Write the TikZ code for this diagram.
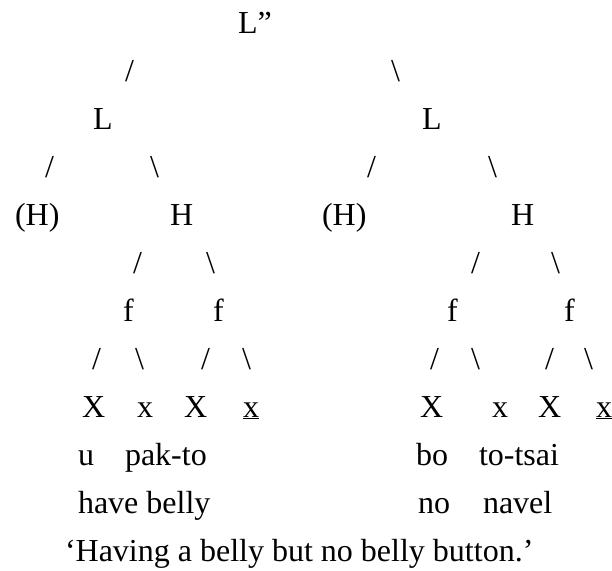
\documentclass[tikz,border=0pt]{standalone}
\usepackage{fontspec}
\setmainfont{Liberation Serif}
\usepackage{tikz}
\tikzstyle{cat} = [anchor=base west, inner sep=0pt, outer sep=0pt]
\tikzstyle{branch} = [cat]
\tikzstyle{gloss} = [cat]

\begin{document}
\begin{tikzpicture}[x=1pt, y=-1pt, font=\fontsize{32}{38}\selectfont]
	\useasboundingbox (0,0) rectangle (612,570);

	\node[cat] (top) at (238, 33) {L”};
	\node[branch] (b1) at (125, 81) {/};
	\node[branch] (b2) at (391, 81) {\textbackslash};

	\node[cat] (l1) at (93, 129) {L};
	\node[cat] (l2) at (422, 129) {L};
	\node[branch] (b3) at (45, 177) {/};
	\node[branch] (b4) at (150, 177) {\textbackslash};
	\node[branch] (b5) at (367, 177) {/};
	\node[branch] (b6) at (488, 177) {\textbackslash};

	\node[cat] (oh1) at (15, 225) {(H)};
	\node[cat] (h1) at (170, 225) {H};
	\node[cat] (oh2) at (322, 225) {(H)};
	\node[cat] (h2) at (511, 225) {H};
	\node[branch] (b7) at (133, 273) {/};
	\node[branch] (b8) at (206, 273) {\textbackslash};
	\node[branch] (b9) at (471, 273) {/};
	\node[branch] (b10) at (551, 273) {\textbackslash};

	\node[cat] (f1) at (123, 321) {f};
	\node[cat] (f2) at (213, 321) {f};
	\node[cat] (f3) at (447, 321) {f};
	\node[cat] (f4) at (564, 321) {f};
	\node[branch] (b11) at (92, 369) {/};
	\node[branch] (b12) at (135, 369) {\textbackslash};
	\node[branch] (b13) at (201, 369) {/};
	\node[branch] (b14) at (242, 369) {\textbackslash};
	\node[branch] (b15) at (430, 369) {/};
	\node[branch] (b16) at (471, 369) {\textbackslash};
	\node[branch] (b17) at (545, 369) {/};
	\node[branch] (b18) at (584, 369) {\textbackslash};

	% skeleton slots
	\node[cat] (x1) at (82, 417) {X};
	\node[cat] (x2) at (137, 417) {x};
	\node[cat] (x3) at (184, 417) {X};
	\node[cat] (x4) at (243, 417) {\underline{x}};
	\node[cat] (x5) at (420, 417) {X};
	\node[cat] (x6) at (492, 417) {x};
	\node[cat] (x7) at (538, 417) {X};
	\node[cat] (x8) at (596, 417) {\underline{x}};

	% words and glosses
	\node[gloss] (u) at (78, 465) {u};
	\node[gloss] (pakto) at (125, 465) {pak-to};
	\node[gloss] (bo) at (416, 465) {bo};
	\node[gloss] (totsai) at (479, 465) {to-tsai};
	\node[gloss] (have) at (78, 513) {have belly};
	\node[gloss] (no) at (418, 513) {no};
	\node[gloss] (navel) at (483, 513) {navel};
	\node[gloss] (trans) at (65, 561) {‘Having a belly but no belly button.’};
\end{tikzpicture}
\end{document}
